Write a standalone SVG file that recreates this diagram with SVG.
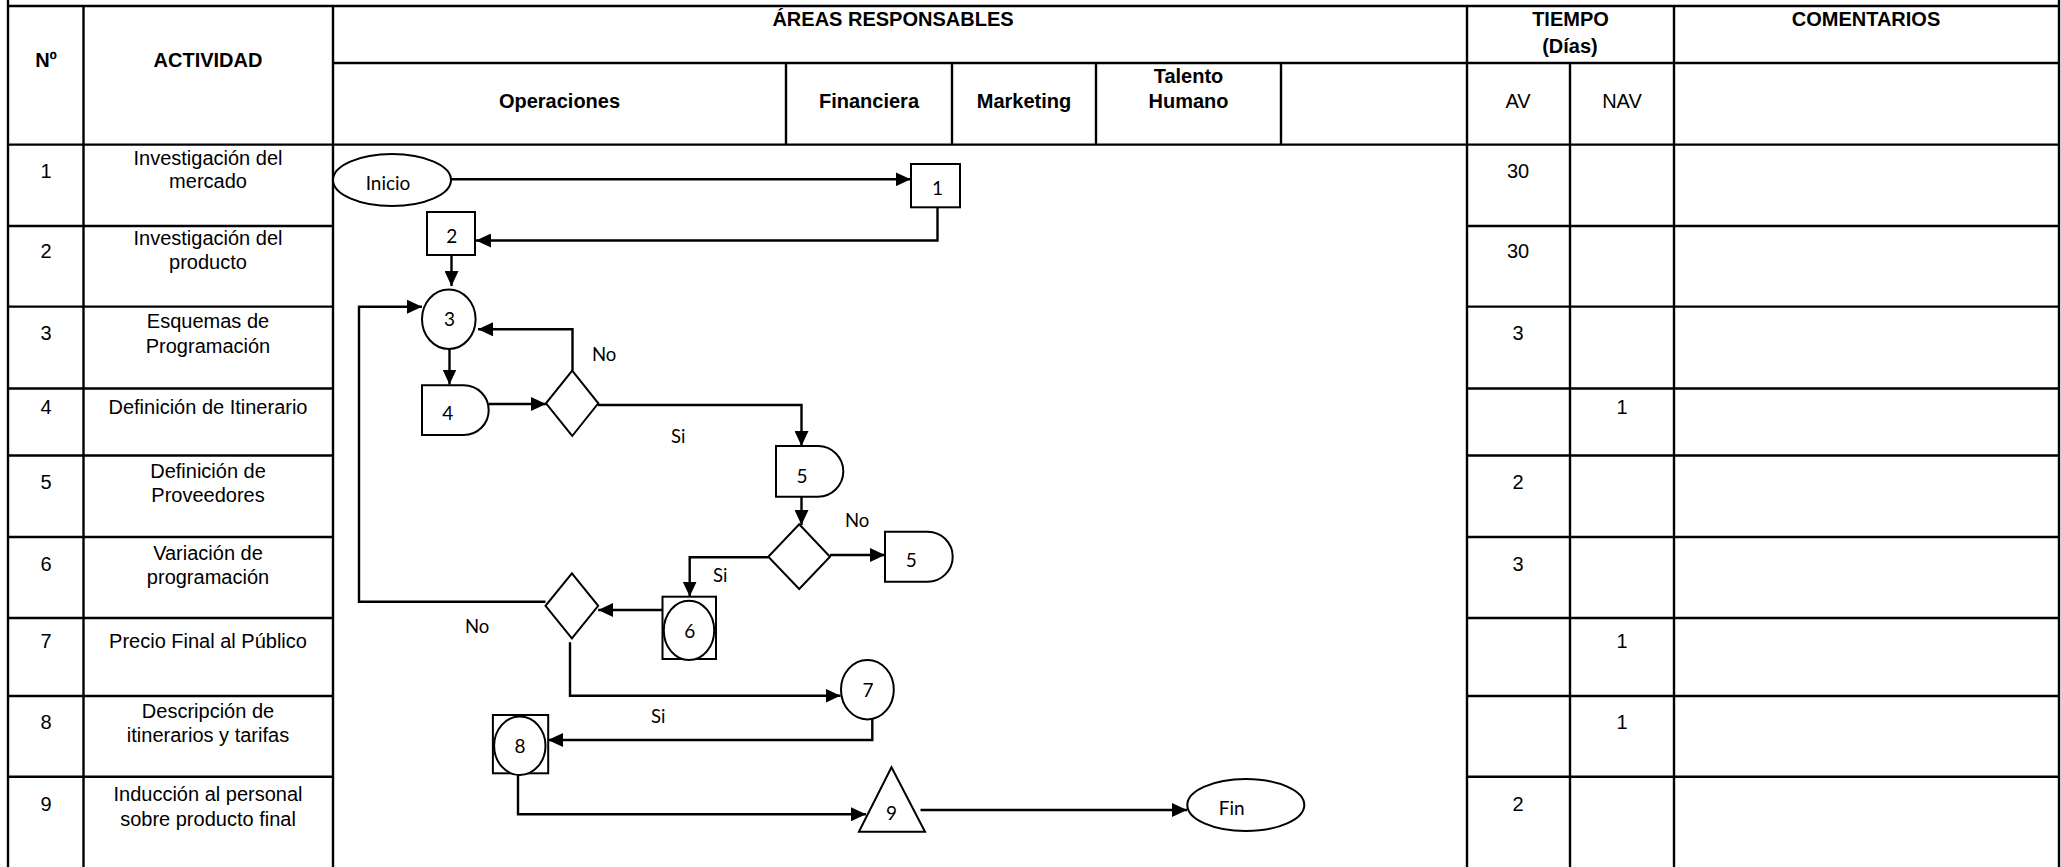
<svg xmlns="http://www.w3.org/2000/svg" width="2061" height="867" viewBox="0 0 2061 867">
  <defs>
    <style>
      .grid { stroke: #000; stroke-width: 2.4; fill: none; }
      .hd { font-family: "Liberation Sans", Arial, sans-serif; font-size: 20px; font-weight: bold; fill: #000; text-anchor: middle; }
      .tx { font-family: "Liberation Sans", Arial, sans-serif; font-size: 20px; fill: #000; text-anchor: middle; }
      .shape { fill: #fff; stroke: #000; stroke-width: 2; }
      .lbl { font-family: Lato, "Open Sans", sans-serif; font-size: 19px; fill: #000; text-anchor: middle; }
      .lab { font-family: Lato, "Open Sans", sans-serif; font-size: 18.5px; fill: #000; }
      .conn { fill: none; stroke: #000; stroke-width: 2.4; }
      .arr { marker-end: url(#head); }
    </style>
    <marker id="head" viewBox="0 0 15 14" refX="15" refY="7" markerWidth="15" markerHeight="14" markerUnits="userSpaceOnUse" orient="auto">
      <path d="M0,0 L15,7 L0,14 Z" fill="#000"/>
    </marker>
  </defs>

  <rect x="0" y="0" width="2061" height="867" fill="#fff"/>

  <!-- table grid -->
  <g id="table-grid" class="grid">
    <line x1="8" y1="6" x2="2059" y2="6"/>
    <line x1="8" y1="0" x2="8" y2="867"/>
    <line x1="2059" y1="0" x2="2059" y2="867"/>
    <line x1="83.5" y1="6" x2="83.5" y2="867"/>
    <line x1="333" y1="6" x2="333" y2="867"/>
    <line x1="1467" y1="6" x2="1467" y2="867"/>
    <line x1="1674" y1="6" x2="1674" y2="867"/>
    <line x1="1570" y1="63" x2="1570" y2="867"/>
    <line x1="333" y1="63" x2="2059" y2="63"/>
    <line x1="786" y1="63" x2="786" y2="144.6"/>
    <line x1="952" y1="63" x2="952" y2="144.6"/>
    <line x1="1096" y1="63" x2="1096" y2="144.6"/>
    <line x1="1281" y1="63" x2="1281" y2="144.6"/>
    <line x1="8" y1="144.6" x2="2059" y2="144.6"/>
    <!-- body row separators (left block and right block) -->
    <path d="M8,226 H333 M1467,226 H2059
             M8,306.6 H333 M1467,306.6 H2059
             M8,388.5 H333 M1467,388.5 H2059
             M8,455.5 H333 M1467,455.5 H2059
             M8,537 H333 M1467,537 H2059
             M8,618 H333 M1467,618 H2059
             M8,696 H333 M1467,696 H2059
             M8,776.7 H333 M1467,776.7 H2059"/>
  </g>

  <!-- header texts -->
  <g id="header">
    <text class="hd" x="46" y="67">Nº</text>
    <text class="hd" x="208" y="67">ACTIVIDAD</text>
    <text class="hd" x="893" y="26">ÁREAS RESPONSABLES</text>
    <text class="hd" x="559.5" y="108">Operaciones</text>
    <text class="hd" x="869" y="108">Financiera</text>
    <text class="hd" x="1024" y="108">Marketing</text>
    <text class="hd" x="1188.5" y="83">Talento</text>
    <text class="hd" x="1188.5" y="108">Humano</text>
    <text class="hd" x="1570.5" y="26">TIEMPO</text>
    <text class="hd" x="1570" y="53">(Días)</text>
    <text class="hd" x="1866" y="26">COMENTARIOS</text>
    <text class="tx" x="1518" y="108">AV</text>
    <text class="tx" x="1622" y="108">NAV</text>
  </g>

  <!-- activity rows -->
  <g id="rows">
    <text class="tx" x="46" y="178">1</text>
    <text class="tx" x="208" y="165">Investigación del</text>
    <text class="tx" x="208" y="188">mercado</text>
    <text class="tx" x="1518" y="178">30</text>

    <text class="tx" x="46" y="258">2</text>
    <text class="tx" x="208" y="245">Investigación del</text>
    <text class="tx" x="208" y="269">producto</text>
    <text class="tx" x="1518" y="258">30</text>

    <text class="tx" x="46" y="340">3</text>
    <text class="tx" x="208" y="328">Esquemas de</text>
    <text class="tx" x="208" y="353">Programación</text>
    <text class="tx" x="1518" y="340">3</text>

    <text class="tx" x="46" y="414">4</text>
    <text class="tx" x="208" y="414">Definición de Itinerario</text>
    <text class="tx" x="1622" y="414">1</text>

    <text class="tx" x="46" y="489">5</text>
    <text class="tx" x="208" y="478">Definición de</text>
    <text class="tx" x="208" y="502">Proveedores</text>
    <text class="tx" x="1518" y="489">2</text>

    <text class="tx" x="46" y="571">6</text>
    <text class="tx" x="208" y="560">Variación de</text>
    <text class="tx" x="208" y="584">programación</text>
    <text class="tx" x="1518" y="571">3</text>

    <text class="tx" x="46" y="648">7</text>
    <text class="tx" x="208" y="648">Precio Final al Público</text>
    <text class="tx" x="1622" y="648">1</text>

    <text class="tx" x="46" y="729">8</text>
    <text class="tx" x="208" y="718">Descripción de</text>
    <text class="tx" x="208" y="742">itinerarios y tarifas</text>
    <text class="tx" x="1622" y="729">1</text>

    <text class="tx" x="46" y="811">9</text>
    <text class="tx" x="208" y="801">Inducción al personal</text>
    <text class="tx" x="208" y="826">sobre producto final</text>
    <text class="tx" x="1518" y="811">2</text>
  </g>

  <!-- flow connectors -->
  <g id="connectors" class="conn">
    <path class="arr" d="M451,179.3 H910.7"/>
    <path class="arr" d="M937.5,207.3 V240.5 H476"/>
    <path class="arr" d="M451.5,255 V286"/>
    <path class="arr" d="M545.5,601.7 H359 V306.7 H422"/>
    <path class="arr" d="M449.5,349 V384.5"/>
    <path class="arr" d="M488.7,404 H546"/>
    <path class="arr" d="M572.5,370.7 V329.3 H478"/>
    <path class="arr" d="M598,405 H801.5 V446"/>
    <path class="arr" d="M801.5,496.7 V525"/>
    <path class="arr" d="M830,555 H885"/>
    <path class="arr" d="M768.3,557.3 H689.7 V596.5"/>
    <path class="arr" d="M662.5,610 H598.2"/>
    <path class="arr" d="M570,642.3 V695.7 H840.5"/>
    <path class="arr" d="M872.3,719 V740 H548"/>
    <path class="arr" d="M518,775 V814.3 H866"/>
    <path class="arr" d="M920.5,810 H1187"/>
  </g>

  <!-- flow nodes -->
  <g id="node-inicio">
    <ellipse class="shape" cx="392" cy="180" rx="59" ry="26"/>
    <text class="lbl" x="388" y="190">Inicio</text>
  </g>
  <g id="node-1">
    <rect class="shape" x="911" y="164" width="49" height="43.3"/>
    <text class="lbl" x="937.5" y="195">1</text>
  </g>
  <g id="node-2">
    <rect class="shape" x="427" y="212" width="48" height="43"/>
    <text class="lbl" x="451.8" y="243">2</text>
  </g>
  <g id="node-3">
    <ellipse class="shape" cx="448.8" cy="319.2" rx="26.8" ry="29.8"/>
    <text class="lbl" x="449.5" y="326">3</text>
  </g>
  <g id="node-4">
    <path class="shape" d="M422,385.3 H463.7 A25,24.85 0 0 1 463.7,435 H422 Z"/>
    <text class="lbl" x="447.7" y="420">4</text>
  </g>
  <g id="decision-a">
    <polygon class="shape" points="572.2,370.7 598.3,403.3 572.2,436 546,403.3"/>
  </g>
  <g id="node-5">
    <path class="shape" d="M776,446 H818 A25.3,25.35 0 0 1 818,496.7 H776 Z"/>
    <text class="lbl" x="802" y="482.7">5</text>
  </g>
  <g id="decision-b">
    <polygon class="shape" points="799.2,524.3 830,556.7 799.2,589 768.3,556.7"/>
  </g>
  <g id="node-5b">
    <path class="shape" d="M885,531.7 H927.7 A25,25 0 0 1 927.7,581.7 H885 Z"/>
    <text class="lbl" x="911.3" y="566.7">5</text>
  </g>
  <g id="node-6">
    <rect class="shape" x="662.5" y="596.7" width="53.5" height="62.3"/>
    <ellipse class="shape" cx="689" cy="630.4" rx="25.2" ry="29.7"/>
    <text class="lbl" x="689.7" y="638">6</text>
  </g>
  <g id="decision-c">
    <polygon class="shape" points="571.9,573.3 598.2,605.8 571.9,638.3 545.5,605.8"/>
  </g>
  <g id="node-7">
    <ellipse class="shape" cx="867.4" cy="689.7" rx="26.4" ry="29.7"/>
    <text class="lbl" x="867.9" y="696.7">7</text>
  </g>
  <g id="node-8">
    <rect class="shape" x="492.9" y="715" width="55.3" height="58.3"/>
    <ellipse class="shape" cx="519.8" cy="745.8" rx="25.7" ry="29.2"/>
    <text class="lbl" x="520" y="753.3">8</text>
  </g>
  <g id="node-9">
    <polygon class="shape" points="891.5,767.3 925,831.7 858.9,831.7"/>
    <text class="lbl" x="891.5" y="820">9</text>
  </g>
  <g id="node-fin">
    <ellipse class="shape" cx="1245.8" cy="805" rx="58.5" ry="26"/>
    <text class="lbl" x="1231.7" y="815">Fin</text>
  </g>

  <!-- branch labels -->
  <g id="branch-labels">
    <text class="lab" x="592" y="360.7">No</text>
    <text class="lab" x="671" y="442.7">Si</text>
    <text class="lab" x="845" y="526.5">No</text>
    <text class="lab" x="713" y="581.7">Si</text>
    <text class="lab" x="465" y="633">No</text>
    <text class="lab" x="651" y="723.3">Si</text>
  </g>
</svg>
